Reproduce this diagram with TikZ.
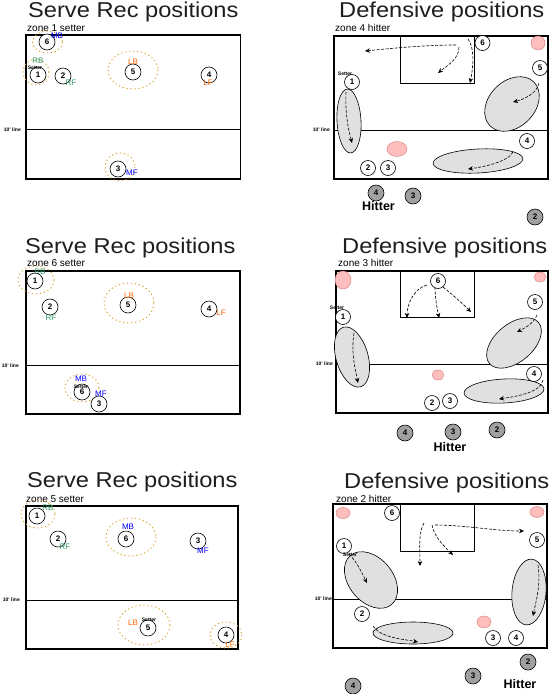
\documentclass[tikz,border=0pt]{standalone}
\usepackage{fontspec}
\setmainfont{Liberation Sans}
\newfontfamily\titlefont[FakeStretch=1.1]{Liberation Sans}
\usetikzlibrary{arrows.meta}
\definecolor{zonegold}{RGB}{218,160,40}
\definecolor{roleorange}{RGB}{255,102,0}
\definecolor{rolegreen}{RGB}{51,153,102}
\definecolor{roleblue}{RGB}{0,0,255}
\definecolor{pinkfill}{RGB}{255,190,190}
\definecolor{pinkdraw}{RGB}{215,120,120}
\definecolor{areagray}{RGB}{224,224,224}
\definecolor{hitgray}{RGB}{160,160,160}
\definecolor{titlegray}{RGB}{30,30,30}
\tikzset{
 court/.style={draw=black, line width=1.1pt},
 tenline/.style={draw=black, line width=1pt},
 innerbox/.style={draw=black, line width=0.8pt},
 plr/.style={circle, draw=black, line width=0.6pt, fill=white, minimum size=16pt, inner sep=0pt, font=\fontsize{8}{8}\selectfont\bfseries},
 dplr/.style={plr, minimum size=15pt},
 hplr/.style={plr, fill=hitgray},
 ring/.style={draw=zonegold, line width=0.9pt, dash pattern=on 1.2pt off 2.8pt},
 blob/.style={fill=pinkfill, draw=pinkdraw, line width=0.4pt},
 area/.style={fill=areagray, draw=black, line width=0.6pt},
 mv/.style={draw=black, line width=0.6pt, dash pattern=on 3pt off 1.5pt, -{Stealth[length=5pt,width=4.5pt]}},
 ttl/.style={anchor=base west, font=\titlefont\fontsize{21.5}{24}\selectfont, inner sep=0pt, text=titlegray},
 subttl/.style={anchor=base west, font=\fontsize{10}{12}\selectfont, inner sep=0pt},
 tenlbl/.style={anchor=east, font=\fontsize{5}{5}\selectfont\bfseries, inner sep=0pt},
 setterlbl/.style={font=\fontsize{5}{5}\selectfont\bfseries, inner sep=0pt},
 role/.style={font=\fontsize{8}{8}\selectfont, inner sep=0pt},
 hitlbl/.style={font=\fontsize{12.5}{13}\selectfont\bfseries, inner sep=0pt},
}
\begin{document}
\begin{tikzpicture}[x=1pt,y=-1pt]
\useasboundingbox[fill=white] (0,0) rectangle (549,694);

% ================= Panel 1 =================
\node[ttl] (T1) at (28,17) {Serve Rec positions};
\node[subttl] (S1) at (27,31) {zone 1 setter};
\draw[court] (26,35) rectangle (240.5,179);
\draw[tenline] (26,129) -- (240.5,129);
\node[tenlbl] (L1) at (21,130) {10' line};
\draw[ring] (47.5,42) ellipse (15 and 11);
\draw[ring] (36,72) ellipse (13 and 13);
\draw[ring] (133,70) ellipse (25 and 19);
\draw[ring] (120,167) ellipse (15 and 14);
\node[plr] (a6) at (47,42) {6};
\node[plr] (a1) at (38,75) {1};
\node[plr] (a2) at (63,76) {2};
\node[plr] (a5) at (133,72) {5};
\node[plr] (a4) at (209,75) {4};
\node[plr] (a3) at (118,169) {3};
\node[role, text=roleblue] (aMB) at (57,36) {MB};
\node[role, text=rolegreen] (aRB) at (38,60.5) {RB};
\node[setterlbl] (aSet) at (35,67.5) {Setter};
\node[role, text=rolegreen] (aRF) at (71,83) {RF};
\node[role, text=roleorange] (aLB) at (133,62) {LB};
\node[role, text=roleorange] (aLF) at (208,83) {LF};
\node[role, text=roleblue] (aMF) at (132,173) {MF};

% ================= Panel 2 =================
\node[ttl] (T2) at (339,17) {Defensive positions};
\node[subttl] (S2) at (335,31) {zone 4 hitter};
\draw[court] (334,36) rectangle (548,179);
\draw[tenline] (334,130) -- (548,130);
\draw[innerbox] (400,36) rectangle (474,83);
\node[tenlbl] (L2) at (330,130) {10' line};
\draw[area, rotate around={3:(349,121)}] (349,121) ellipse (12 and 32);
\draw[area, rotate around={45:(512,104)}] (512,104) ellipse (31 and 23);
\draw[area, rotate around={3:(478,161)}] (478,161) ellipse (45 and 12);
\draw[blob] (538,43) ellipse (7 and 7);
\draw[blob] (397,149) ellipse (10 and 7.5);
\coordinate (b2s1) at (456,45); \coordinate (b2e1) at (365,51);
\coordinate (b2s2) at (459,47); \coordinate (b2e2) at (438,73);
\coordinate (b2s3) at (468,39); \coordinate (b2e3) at (470,83);
\coordinate (b2s4) at (346,92); \coordinate (b2e4) at (352,143);
\coordinate (b2s5) at (539,83); \coordinate (b2e5) at (513,102);
\coordinate (b2s6) at (513,152); \coordinate (b2e6) at (468,169);
\draw[mv] (b2s1) .. controls +(-30,0) and +(30,-3) .. (b2e1);
\draw[mv] (b2s2) .. controls +(0,12) and +(10,-8) .. (b2e2);
\draw[mv] (b2s3) .. controls +(6,8) and +(4,-20) .. (b2e3);
\draw[mv] (b2s4) .. controls +(-1,20) and +(-4,-15) .. (b2e4);
\draw[mv] (b2s5) .. controls +(-2,10) and +(12,-3) .. (b2e5);
\draw[mv] (b2s6) .. controls +(-5,10) and +(15,-2) .. (b2e6);
\node[dplr] (b6) at (482.5,43) {6};
\node[dplr] (b5) at (540,68) {5};
\node[dplr] (b1) at (352,82) {1};
\node[setterlbl] (bSet) at (345,74) {Setter};
\node[dplr] (b4) at (527,141) {4};
\node[dplr] (b2) at (368,168) {2};
\node[dplr] (b3) at (388,168) {3};
\node[hplr] (bh4) at (376,193) {4};
\node[hplr] (bh3) at (413,196) {3};
\node[hplr] (bh2) at (535,217) {2};
\node[hitlbl] (bHit) at (378.5,206) {Hitter};

% ================= Panel 3 =================
\node[ttl] (T3) at (25,253) {Serve Rec positions};
\node[subttl] (S3) at (27,266) {zone 6 setter};
\draw[court] (26,271) rectangle (240,414);
\draw[tenline] (26,365) -- (240,365);
\node[tenlbl] (L3) at (19,366) {10' line};
\draw[ring] (36,280) ellipse (18 and 14);
\draw[ring] (129,303) ellipse (25 and 20);
\draw[ring] (82,388) ellipse (17 and 14);
\node[plr] (c1) at (35,281) {1};
\node[plr] (c2) at (50,307) {2};
\node[plr] (c5) at (128,305) {5};
\node[plr] (c4) at (209,309) {4};
\node[plr] (c6) at (82,392) {6};
\node[plr] (c3) at (99,404) {3};
\node[role, text=rolegreen] (cRB) at (40,272) {RB};
\node[role, text=rolegreen] (cRF) at (51,318) {RF};
\node[role, text=roleorange] (cLB) at (129,296) {LB};
\node[role, text=roleorange] (cLF) at (221,313) {LF};
\node[role, text=roleblue] (cMB) at (81,379) {MB};
\node[setterlbl] (cSet) at (81,386.5) {Setter};
\node[role, text=roleblue] (cMF) at (101,394) {MF};

% ================= Panel 4 =================
\node[ttl] (T4) at (342,253) {Defensive positions};
\node[subttl] (S4) at (338,266) {zone 3 hitter};
\draw[court] (336,271) rectangle (548,413);
\draw[tenline] (336,364) -- (548,364);
\draw[innerbox] (400,271) rectangle (474,317);
\node[tenlbl] (L4) at (333,364) {10' line};
\draw[area, rotate around={16:(352,357)}] (352,357) ellipse (16 and 31);
\draw[area, rotate around={40:(514,343)}] (514,343) ellipse (32 and 19);
\draw[area, rotate around={3:(504,391)}] (504,391) ellipse (40 and 12);
\draw[blob] (343,280) ellipse (8 and 9);
\draw[blob] (540,277) ellipse (6 and 5);
\draw[blob] (438,375) ellipse (6 and 5);
\coordinate (d2s1) at (427,285); \coordinate (d2e1) at (407,318);
\coordinate (d2s2) at (435,287); \coordinate (d2e2) at (439,318);
\coordinate (d2s3) at (443,287); \coordinate (d2e3) at (471,312);
\coordinate (d2s4) at (354,333); \coordinate (d2e4) at (358,383);
\coordinate (d2s5) at (537,315); \coordinate (d2e5) at (517,332);
\coordinate (d2s6) at (543,380); \coordinate (d2e6) at (499,399);
\draw[mv] (d2s1) .. controls +(-12,3) and +(0,-15) .. (d2e1);
\draw[mv] (d2s2) .. controls +(0,10) and +(-2,-10) .. (d2e2);
\draw[mv] (d2s3) .. controls +(10,8) and +(-8,-8) .. (d2e3);
\draw[mv] (d2s4) .. controls +(-3,20) and +(-3,-15) .. (d2e4);
\draw[mv] (d2s5) .. controls +(-3,8) and +(8,-4) .. (d2e5);
\draw[mv] (d2s6) .. controls +(-2,12) and +(20,-3) .. (d2e6);
\node[dplr] (d6) at (438,281) {6};
\node[dplr] (d5) at (535,302) {5};
\node[setterlbl] (dSet) at (337,307.5) {Setter};
\node[dplr] (d1) at (343,317) {1};
\node[dplr] (d4) at (534,374) {4};
\node[dplr] (d2) at (432,403) {2};
\node[dplr] (d3) at (450,401) {3};
\node[hplr] (dh4) at (405,433) {4};
\node[hplr] (dh3) at (453,432) {3};
\node[hplr] (dh2) at (497,430) {2};
\node[hitlbl] (dHit) at (450,447) {Hitter};

% ================= Panel 5 =================
\node[ttl] (T5) at (27,487) {Serve Rec positions};
\node[subttl] (S5) at (26,502) {zone 5 setter};
\draw[court] (26,506) rectangle (238,649);
\draw[tenline] (26,600) -- (238,600);
\node[tenlbl] (L5) at (20,600) {10' line};
\draw[ring] (38,514) ellipse (17 and 14);
\draw[ring] (131,537) ellipse (25 and 19);
\draw[ring] (144,625) ellipse (26 and 20);
\draw[ring] (226,635) ellipse (16 and 13);
\node[plr] (e1) at (37,516) {1};
\node[plr] (e2) at (58,539) {2};
\node[plr] (e6) at (126,539) {6};
\node[plr] (e3) at (198,541) {3};
\node[plr] (e5) at (148,628) {5};
\node[plr] (e4) at (226,635) {4};
\node[role, text=rolegreen] (eRB) at (48,508) {RB};
\node[role, text=rolegreen] (eRF) at (65,547) {RF};
\node[role, text=roleblue] (eMB) at (128,527) {MB};
\node[role, text=roleblue] (eMF) at (203,551) {MF};
\node[setterlbl] (eSet) at (149,619.5) {Setter};
\node[role, text=roleorange] (eLB) at (133,623) {LB};
\node[role, text=roleorange] (eLF) at (230,645) {LF};

% ================= Panel 6 =================
\node[ttl] (T6) at (344,488) {Defensive positions};
\node[subttl] (S6) at (336,502) {zone 2 hitter};
\draw[court] (333,504) rectangle (547,648);
\draw[tenline] (333,599) -- (547,599);
\draw[innerbox] (400,504) rectangle (474,551);
\node[tenlbl] (L6) at (332,599) {10' line};
\draw[area, rotate around={-50:(371,580)}] (371,580) ellipse (32 and 22);
\draw[area, rotate around={-5:(529,592)}] (529,592) ellipse (17 and 33);
\draw[area] (413,633) ellipse (40 and 11);
\draw[blob] (343,513) ellipse (7 and 5.5);
\draw[blob] (537,512) ellipse (7 and 5.5);
\draw[blob] (484,622) ellipse (7 and 6);
\coordinate (f2s1) at (424,523); \coordinate (f2e1) at (420,566);
\coordinate (f2s2) at (432,525); \coordinate (f2e2) at (453,555);
\coordinate (f2s3) at (435,525); \coordinate (f2e3) at (524,531);
\coordinate (f2s4) at (349,554); \coordinate (f2e4) at (367,583);
\coordinate (f2s5) at (538,565); \coordinate (f2e5) at (533,616);
\coordinate (f2s6) at (373,626); \coordinate (f2e6) at (418,642);
\draw[mv] (f2s1) .. controls +(-6,10) and +(0,-15) .. (f2e1);
\draw[mv] (f2s2) .. controls +(2,12) and +(-8,-8) .. (f2e2);
\draw[mv] (f2s3) .. controls +(30,0) and +(-30,0) .. (f2e3);
\draw[mv] (f2s4) .. controls +(8,8) and +(-5,-10) .. (f2e4);
\draw[mv] (f2s5) .. controls +(3,20) and +(3,-15) .. (f2e5);
\draw[mv] (f2s6) .. controls +(8,12) and +(-15,-3) .. (f2e6);
\node[dplr] (f6) at (392,513) {6};
\node[dplr] (f5) at (537,540) {5};
\node[dplr] (f1) at (344,546) {1};
\node[setterlbl] (fSet) at (350,555) {Setter};
\node[dplr] (f2) at (362,614) {2};
\node[dplr] (f3) at (493,638) {3};
\node[dplr] (f4) at (516,638) {4};
\node[hplr] (fh2) at (528,662) {2};
\node[hplr] (fh3) at (473,676) {3};
\node[hplr] (fh4) at (353,686) {4};
\node[hitlbl] (fHit) at (520,684) {Hitter};
\end{tikzpicture}
\end{document}
